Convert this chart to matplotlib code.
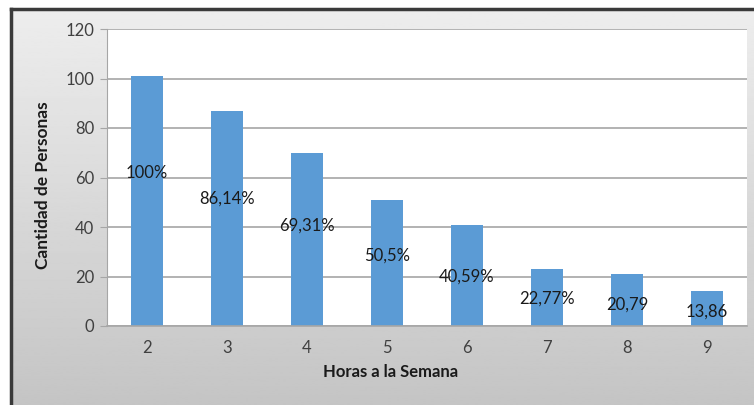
import numpy as np
import matplotlib.pyplot as plt

plt.rcParams['font.family'] = ['Lato', 'DejaVu Sans']

# data
horas = ['2', '3', '4', '5', '6', '7', '8', '9']
personas = [101, 87, 70, 51, 41, 23, 21, 14]
etiquetas = ['100%', '86,14%', '69,31%', '50,5%', '40,59%', '22,77%', '20,79', '13,86']
# height (data units) where each label sits, as placed by hand in the original
label_y = [62, 51.5, 40.5, 28.5, 20, 11, 8.5, 6]

W, H = 754, 405
fig = plt.figure(figsize=(W / 100, H / 100), dpi=100)
fig.patch.set_facecolor('white')

# gray gradient chart area with dark frame on the left/top
bg = fig.add_axes([11 / W, 0, 1 - 11 / W, 1 - 9 / H], zorder=0)
grad = np.linspace(0.93, 0.77, 256).reshape(-1, 1)
bg.imshow(grad, aspect='auto', cmap='gray', vmin=0, vmax=1, extent=[0, 1, 0, 1])
bg.set_axis_off()
fig.add_artist(plt.Line2D([11 / W, 11 / W], [0, 1 - 9 / H], color='#3a3a3a', lw=2.5))
fig.add_artist(plt.Line2D([11 / W, 1], [1 - 9 / H, 1 - 9 / H], color='#3a3a3a', lw=2.5))

ax = fig.add_axes([107 / W, (H - 326) / H, 640 / W, 297 / H], zorder=1)
ax.set_facecolor('white')
x = np.arange(len(horas))
ax.bar(x, personas, width=0.39, color='#5b9bd5', zorder=2)

for xi, yi, t in zip(x, label_y, etiquetas):
    ax.text(xi, yi, t, ha='center', va='center', fontsize=12, color='#1a1a1a', zorder=3)

ax.set_xlim(-0.5, len(horas) - 0.5)
ax.set_ylim(0, 120)
ax.set_yticks(range(0, 121, 20))
ax.set_xticks(x)
ax.set_xticklabels(horas)
ax.yaxis.grid(True, color='#a6a6a6', lw=1.2, zorder=1)
ax.set_axisbelow(True)
for s in ['top', 'right']:
    ax.spines[s].set_visible(False)
ax.spines['left'].set_color('#a6a6a6')
ax.spines['bottom'].set_color('#a6a6a6')
ax.spines['bottom'].set_linewidth(1.2)
ax.tick_params(axis='both', colors='#a6a6a6', labelcolor='#404040', labelsize=12)
ax.tick_params(axis='x', length=0, pad=10)
ax.tick_params(axis='y', length=5, pad=4)

fig.text(43 / W, 1 - 185 / H, 'Cantidad de Personas', rotation=90, ha='center', va='center',
         fontsize=12.5, fontweight='bold', color='#1a1a1a')
fig.text(391 / W, 1 - 372 / H, 'Horas a la Semana', ha='center', va='center',
         fontsize=12, fontweight='bold', color='#1a1a1a')

fig.savefig('out.png', dpi=100)
